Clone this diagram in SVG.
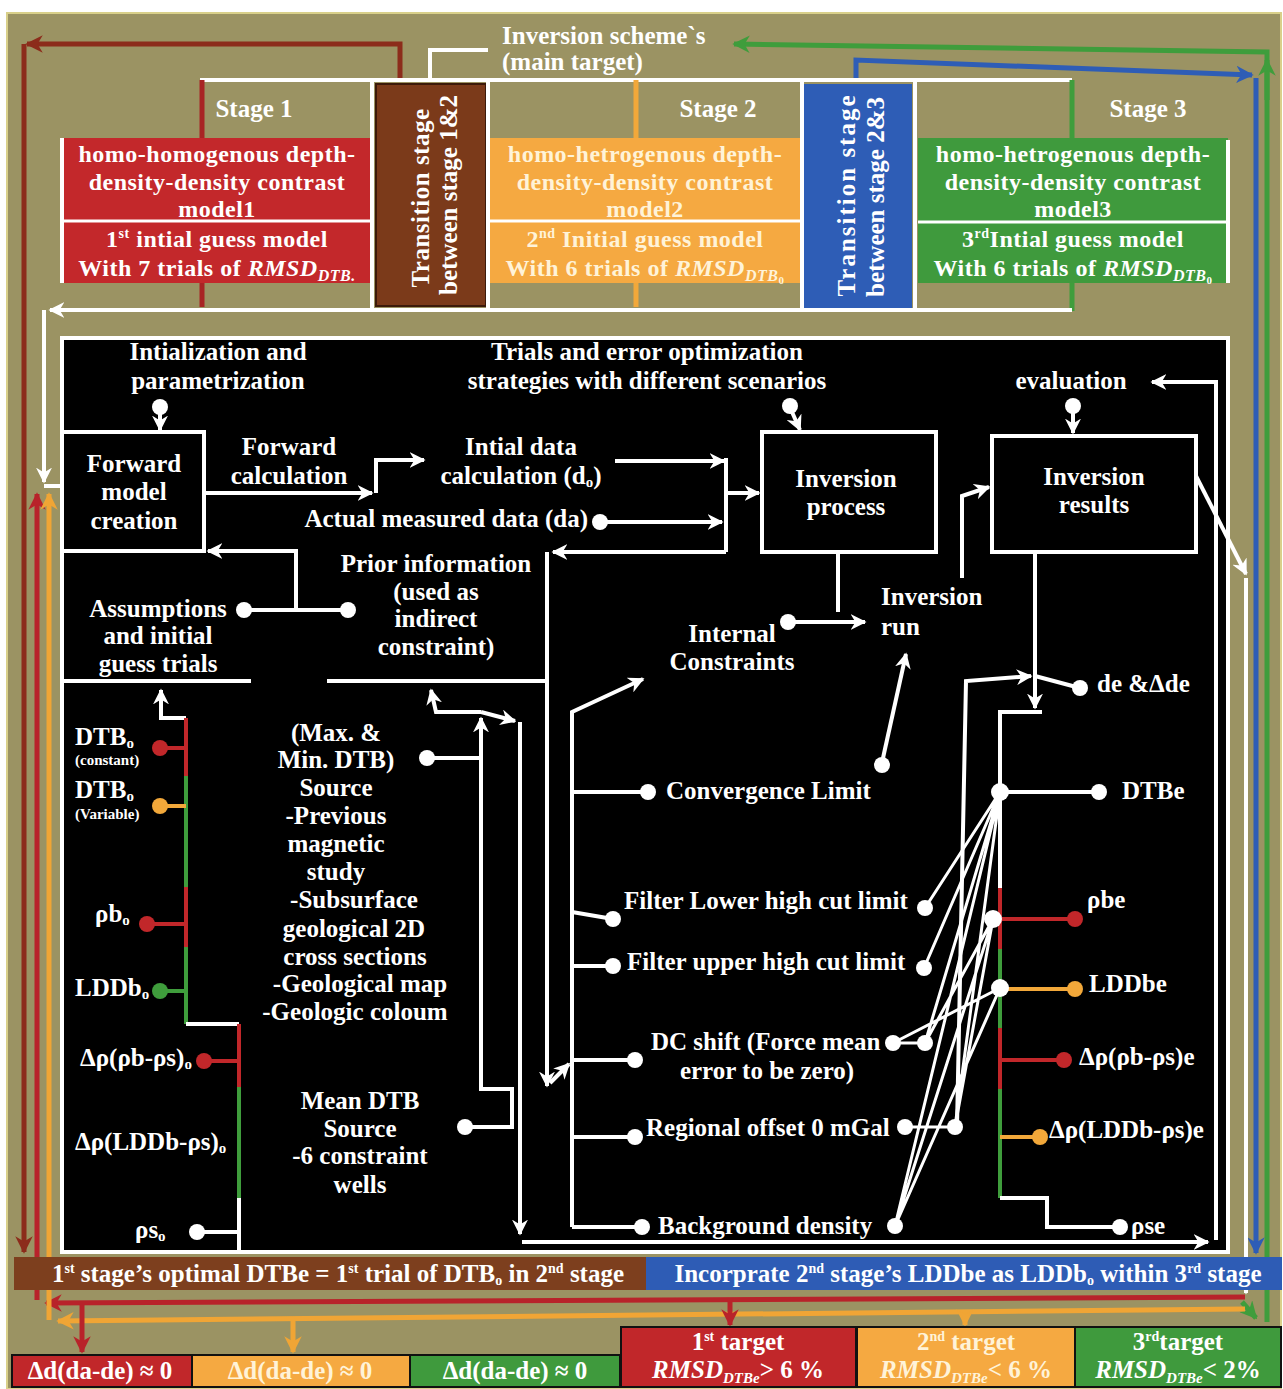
<svg xmlns="http://www.w3.org/2000/svg" width="1283" height="1389" viewBox="0 0 1283 1389">
<defs>
<style>
text{font-family:"Liberation Serif","DejaVu Serif",serif;font-weight:bold;fill:#fff;font-size:25px}
.c{text-anchor:middle}
.sb{font-size:24px;letter-spacing:0.5px}
.sm{font-size:15px}
.it{font-style:italic}
.nw{font-weight:normal}
.pale{fill:#fff3d8}
.w{fill:none;stroke:#fff;stroke-width:4}
.wt{fill:none;stroke:#fff;stroke-width:3}
.wa{marker-end:url(#aw)}
.d{fill:#fff}
.box{fill:none;stroke:#fff;stroke-width:4}
.rl{fill:none;stroke:#c1272a;stroke-width:4}
.ol{fill:none;stroke:#f2a83a;stroke-width:4}
.gl{fill:none;stroke:#3f9d3c;stroke-width:4}
.rd{fill:#c1272a}
.od{fill:#f2a83a}
.gd{fill:#3f9d3c}
.big{fill:none;stroke-width:5}
</style>
<marker id="aw" viewBox="0 0 10 10" refX="9" refY="5" markerWidth="4" markerHeight="4" orient="auto" markerUnits="strokeWidth"><path d="M0,0 L10,5 L0,10 L3,5 z" fill="#fff"/></marker>
<marker id="ar" viewBox="0 0 10 10" refX="9" refY="5" markerWidth="3.5" markerHeight="3.5" orient="auto" markerUnits="strokeWidth"><path d="M0,0 L10,5 L0,10 L3,5 z" fill="#b8232a"/></marker>
<marker id="ao" viewBox="0 0 10 10" refX="9" refY="5" markerWidth="3.5" markerHeight="3.5" orient="auto" markerUnits="strokeWidth"><path d="M0,0 L10,5 L0,10 L3,5 z" fill="#f0a535"/></marker>
<marker id="ag" viewBox="0 0 10 10" refX="9" refY="5" markerWidth="3.5" markerHeight="3.5" orient="auto" markerUnits="strokeWidth"><path d="M0,0 L10,5 L0,10 L3,5 z" fill="#3f9d3c"/></marker>
<marker id="ab" viewBox="0 0 10 10" refX="9" refY="5" markerWidth="3.5" markerHeight="3.5" orient="auto" markerUnits="strokeWidth"><path d="M0,0 L10,5 L0,10 L3,5 z" fill="#2e5db6"/></marker>
<marker id="abr" viewBox="0 0 10 10" refX="9" refY="5" markerWidth="3.5" markerHeight="3.5" orient="auto" markerUnits="strokeWidth"><path d="M0,0 L10,5 L0,10 L3,5 z" fill="#8c2c1b"/></marker>
</defs>

<rect x="0" y="0" width="1283" height="1389" fill="#fff"/>
<rect x="7" y="13" width="1274" height="1376" fill="#9b9363" stroke="#d9d08a" stroke-width="2"/>

<!-- Stage row nodes -->
<g id="main-target">
<text x="502" y="44" font-size="24" fill="#f7f2de">Inversion scheme`s</text>
<text x="502" y="70" font-size="24" fill="#f7f2de">(main target)</text>
</g>

<g id="stage1">
<rect x="62" y="138" width="310" height="145" fill="#c3282b"/>
<path d="M62,138 V283" class="w"/>
<path d="M62,221 H372" stroke="#fff" stroke-width="3"/>
<text x="254" y="117" class="c" font-size="24">Stage 1</text>
<text x="217" y="162" class="c sb">homo-homogenous  depth-</text>
<text x="217" y="190" class="c sb">density-density contrast</text>
<text x="217" y="217" class="c sb">model1</text>
<text x="217" y="247" class="c sb">1<tspan font-size="14" dy="-9">st</tspan><tspan dy="9"> intial guess model</tspan></text>
<text x="217" y="276" class="c sb">With 7 trials of <tspan class="it">RMSD</tspan><tspan class="it" font-size="16" dy="5">DTB.</tspan></text>
</g>

<g id="transition12">
<rect x="376" y="84" width="110" height="222" fill="#7b3a1a" stroke="#3c1a0a" stroke-width="2"/>
<text transform="translate(429,198) rotate(-90)" class="c" font-size="24" letter-spacing="0.5">Transition stage</text>
<text transform="translate(457,195) rotate(-90)" class="c" font-size="24">between stage 1&amp;2</text>
</g>

<g id="stage2">
<rect x="490" y="138" width="310" height="145" fill="#f5a941"/>
<path d="M490,221 H800" stroke="#fff" stroke-width="3"/>
<text x="718" y="117" class="c" font-size="24">Stage 2</text>
<text x="645" y="162" class="c sb pale">homo-hetrogenous depth-</text>
<text x="645" y="190" class="c sb pale">density-density contrast</text>
<text x="645" y="217" class="c sb pale">model2</text>
<text x="645" y="247" class="c sb pale">2<tspan font-size="14" dy="-9">nd</tspan><tspan dy="9"> Initial guess model</tspan></text>
<text x="645" y="276" class="c sb pale">With 6 trials of <tspan class="it">RMSD</tspan><tspan class="it" font-size="16" dy="5">DTB</tspan><tspan font-size="11" dy="3">0</tspan></text>
</g>

<g id="transition23">
<rect x="804" y="84" width="108" height="226" fill="#2e5db6"/>
<text transform="translate(855,195) rotate(-90)" class="c" font-size="22" letter-spacing="2">Transition stage</text>
<text transform="translate(884,197) rotate(-90)" class="c" font-size="24">between stage 2&amp;3</text>
</g>

<g id="stage3">
<rect x="918" y="138" width="310" height="145" fill="#3f9a3d"/>
<path d="M1228,140 V283" class="w"/>
<path d="M918,222 H1226" stroke="#fff" stroke-width="3"/>
<text x="1148" y="117" class="c" font-size="24">Stage 3</text>
<text x="1073" y="162" class="c sb">homo-hetrogenous depth-</text>
<text x="1073" y="190" class="c sb">density-density contrast</text>
<text x="1073" y="217" class="c sb">model3</text>
<text x="1073" y="247" class="c sb">3<tspan font-size="14" dy="-9">rd</tspan><tspan dy="9">Intial guess model</tspan></text>
<text x="1073" y="276" class="c sb">With 6 trials of <tspan class="it">RMSD</tspan><tspan class="it" font-size="16" dy="5">DTB</tspan><tspan font-size="11" dy="3">0</tspan></text>
</g>

<!-- Black panel -->
<g id="panel">
<rect x="62" y="338" width="1166" height="914" fill="#000" stroke="#fff" stroke-width="4"/>
</g>

<g id="connectors">
<!-- outer coloured loops -->
<path d="M400,82 V44 H27" stroke="#8c2c1b" class="big" marker-end="url(#abr)"/>
<path d="M24,44 V1252" stroke="#8c2c1b" class="big" marker-end="url(#abr)"/>
<path d="M1267,1322 V52 L734,44" stroke="#3f9d3c" class="big" marker-end="url(#ag)"/>
<path d="M1267,100 V60" stroke="#3f9d3c" class="big" marker-end="url(#ag)"/>
<path d="M1242,1302 L1256,1318" stroke="#3f9d3c" class="big" marker-end="url(#ag)"/>
<path d="M856,82 V60 L1252,75" stroke="#2e5db6" class="big" marker-end="url(#ab)"/>
<path d="M1256,78 V1253" stroke="#2e5db6" class="big" marker-end="url(#ab)"/>
<!-- stage row frame -->
<path class="w" d="M200,80 H1072"/>
<path class="w" d="M430,80 V50 H488"/>
<path class="w" d="M372,80 V308 M488,80 V308 M802,80 V310 M915,80 V310"/>
<path d="M202,80 V138 M202,283 V307" stroke="#a82424" class="big"/>
<path d="M636,80 V138 M636,283 V307" stroke="#f2a83a" class="big"/>
<path d="M1072,80 V138 M1072,283 V311" stroke="#3f9d3c" class="big"/>
<path class="w wa" d="M1072,310 H50"/>
<path class="w wa" d="M44,310 V482"/>
<path class="w" d="M44,486 H62"/>
<!-- bottom return loops -->
<path d="M1245,1297 L46,1303" stroke="#b8232a" class="big" marker-end="url(#ar)"/>
<path d="M37,1300 V494" stroke="#b8232a" class="big" marker-end="url(#ar)"/>
<path d="M1245,1309 L58,1321" stroke="#f0a535" class="big" marker-end="url(#ao)"/>
<path d="M49,1320 V494" stroke="#f0a535" class="big" marker-end="url(#ao)"/>
<path d="M82,1304 V1352" stroke="#b8232a" class="big" marker-end="url(#ar)"/>
<path d="M293,1319 V1352" stroke="#f0a535" class="big" marker-end="url(#ao)"/>
<path d="M730,1299 V1325" stroke="#b8232a" class="big" marker-end="url(#ar)"/>
<path d="M965,1312 V1325" stroke="#f0a535" class="big" marker-end="url(#ao)"/>
<path class="w wa" d="M1196,476 L1246,574"/>
<path class="w wa" d="M1246,578 V1293"/>

<!-- panel flow -->
<path class="w wa" d="M160,413 V430"/>
<path class="w wa" d="M204,493 H372"/>
<path class="w wa" d="M376,493 V460 H424"/>
<path class="w wa" d="M615,461 H724"/>
<path class="w" d="M726,458 V552"/>
<path class="w wa" d="M606,522 H722"/>
<path class="w wa" d="M726,493 H759"/>
<path class="w wa" d="M726,552 H553"/>
<path class="w wa" d="M547,552 V1086"/>
<path class="w wa" d="M550,1083 L569,1064"/>
<path class="w wa" d="M792,412 L800,430"/>
<path class="w wa" d="M1073,413 V433"/>
<path class="w" d="M838,552 V612"/>
<path class="w wa" d="M794,622 H865"/>
<path class="w wa" d="M962,578 V496 L989,487"/>
<path class="w wa" d="M883,758 L906,654"/>
<path class="w wa" d="M296,610 V551 H208"/>
<path class="w" d="M244,610 H348"/>
<path class="w" d="M62,681 H251 M327,681 H547"/>
<path class="w wa" d="M186,718 H161 V690"/>
<path class="w wa" d="M465,1127 H512 V1089 H481 V718"/>
<path class="w" d="M427,758 H481"/>
<path class="w wa" d="M481,712 H436 L431,690"/>
<path class="w wa" d="M481,712 L515,721"/>
<path class="w wa" d="M520,722 V1234"/>
<path class="w wa" d="M522,1242 H1208"/>
<path class="w wa" d="M1216,1240 V382 H1152"/>
<path class="w wa" d="M572,1227 V712 L643,679"/>
<path class="w" d="M572,792 H648 M572,912 L613,919 M572,966 H613 M572,1060 H635 M572,1137 H635 M572,1227 H642"/>
<path class="w wa" d="M1035,552 V708"/>
<path class="w" d="M1042,712 H1000 V888"/>
<path class="rl" d="M1000,888 V949"/>
<path class="gl" d="M1000,949 V1028"/>
<path class="rl" d="M1000,1028 V1089"/>
<path class="gl" d="M1000,1089 V1198"/>
<path class="w" d="M1000,1198 H1047 V1227 H1120"/>
<path class="w wa" d="M957,1127 L966,681 L1031,676"/>
<path class="w" d="M1035,676 L1080,688"/>
<path class="w" d="M1000,792 H1099"/>
<path class="rl" d="M993,919 H1075"/>
<path class="ol" d="M1000,989 H1075"/>
<path class="rl" d="M1000,1060 H1064"/>
<path class="ol" d="M1000,1137 H1040"/>
<path class="wt" d="M1000,792 L925,908 M1000,792 L924,968 M1000,792 L925,1043 M1000,792 L955,1127 M1000,792 L895,1226 M993,919 L925,1043 M993,919 L955,1127 M993,919 L895,1226 M1000,988 L893,1043 M1000,988 L895,1226 M893,1043 H925 M905,1127 H955"/>
<!-- left chain -->
<path class="rl" d="M186,718 V776"/>
<path class="gl" d="M186,776 V887"/>
<path class="rl" d="M186,887 V947"/>
<path class="gl" d="M186,947 V1024"/>
<path class="w" d="M186,1024 H239"/>
<path class="rl" d="M239,1024 V1087"/>
<path class="gl" d="M239,1087 V1198"/>
<path class="w" d="M239,1198 V1252"/>
<path class="rl" d="M160,748 H186 M147,924 H186 M204,1061 H239"/>
<path class="ol" d="M160,806 H186"/>
<path class="gl" d="M160,991 H186"/>
<path class="w" d="M197,1232 H239"/>
</g>

<!-- panel nodes -->
<g id="init">
<text x="218" y="360" class="c">Intialization and</text>
<text x="218" y="389" class="c">parametrization</text>
<circle cx="160" cy="407" r="8" class="d"/>
</g>
<g id="forward-model">
<rect x="62" y="432" width="142" height="119" class="box"/>
<text x="134" y="472" class="c">Forward</text>
<text x="134" y="500" class="c">model</text>
<text x="134" y="529" class="c">creation</text>
</g>
<g id="forward-calc">
<text x="289" y="455" class="c">Forward</text>
<text x="289" y="484" class="c">calculation</text>
</g>
<g id="initial-data">
<text x="521" y="455" class="c">Intial data</text>
<text x="521" y="484" class="c">calculation (d<tspan font-size="15" dy="3">o</tspan><tspan dy="-3">)</tspan></text>
</g>
<g id="actual-data">
<text x="588" y="527" text-anchor="end">Actual measured data (da)</text>
<circle cx="600" cy="522" r="8" class="d"/>
</g>
<g id="trials">
<text x="647" y="360" class="c">Trials and error optimization</text>
<text x="647" y="389" class="c">strategies with different scenarios</text>
<circle cx="790" cy="406" r="8" class="d"/>
</g>
<g id="inversion-process">
<rect x="762" y="432" width="174" height="120" class="box"/>
<text x="846" y="487" class="c">Inversion</text>
<text x="846" y="515" class="c">process</text>
</g>
<g id="evaluation">
<text x="1071" y="389" class="c">evaluation</text>
<circle cx="1073" cy="406" r="8" class="d"/>
</g>
<g id="inversion-results">
<rect x="992" y="436" width="204" height="116" class="box"/>
<text x="1094" y="485" class="c">Inversion</text>
<text x="1094" y="513" class="c">results</text>
</g>
<g id="inversion-run">
<text x="881" y="605">Inversion</text>
<text x="881" y="635">run</text>
</g>
<g id="internal-constraints">
<text x="732" y="642" class="c">Internal</text>
<text x="732" y="670" class="c">Constraints</text>
<circle cx="788" cy="622" r="8" class="d"/>
</g>
<g id="assumptions">
<text x="158" y="617" class="c">Assumptions</text>
<text x="158" y="644" class="c">and initial</text>
<text x="158" y="672" class="c">guess trials</text>
<circle cx="244" cy="610" r="8" class="d"/>
</g>
<g id="prior-info">
<text x="436" y="572" class="c">Prior information</text>
<text x="436" y="600" class="c">(used as</text>
<text x="436" y="627" class="c">indirect</text>
<text x="436" y="655" class="c">constraint)</text>
<circle cx="348" cy="610" r="8" class="d"/>
</g>
<g id="initial-params">
<text x="75" y="745">DTB<tspan font-size="15" dy="3">o</tspan></text>
<text x="75" y="765" class="sm">(constant)</text>
<circle cx="160" cy="748" r="8" class="rd"/>
<text x="75" y="798">DTB<tspan font-size="15" dy="3">o</tspan></text>
<text x="75" y="819" class="sm">(Variable)</text>
<circle cx="160" cy="806" r="8" class="od"/>
<text x="95" y="922">ρb<tspan font-size="15" dy="3">o</tspan></text>
<circle cx="147" cy="924" r="8" class="rd"/>
<text x="75" y="996">LDDb<tspan font-size="15" dy="3">o</tspan></text>
<circle cx="160" cy="991" r="8" class="gd"/>
<text x="80" y="1066">Δρ(ρb-ρs)<tspan font-size="15" dy="3">o</tspan></text>
<circle cx="204" cy="1061" r="8" class="rd"/>
<text x="75" y="1150">Δρ(LDDb-ρs)<tspan font-size="15" dy="3">o</tspan></text>
<text x="135" y="1238">ρs<tspan font-size="15" dy="3">o</tspan></text>
<circle cx="197" cy="1232" r="8" class="d"/>
</g>
<g id="dtb-source">
<text x="336" y="741" class="c">(Max. &amp;</text>
<text x="336" y="768" class="c">Min. DTB)</text>
<text x="336" y="796" class="c">Source</text>
<text x="336" y="824" class="c">-Previous</text>
<text x="336" y="852" class="c">magnetic</text>
<text x="336" y="880" class="c">study</text>
<text x="354" y="908" class="c">-Subsurface</text>
<text x="354" y="937" class="c">geological 2D</text>
<text x="355" y="965" class="c">cross sections</text>
<text x="360" y="992" class="c">-Geological map</text>
<text x="355" y="1020" class="c">-Geologic coloum</text>
<circle cx="427" cy="758" r="8" class="d"/>
</g>
<g id="mean-dtb">
<text x="360" y="1109" class="c">Mean DTB</text>
<text x="360" y="1137" class="c">Source</text>
<text x="360" y="1164" class="c">-6 constraint</text>
<text x="360" y="1193" class="c">wells</text>
<circle cx="465" cy="1127" r="8" class="d"/>
</g>
<g id="strategies">
<text x="666" y="799">Convergence Limit</text>
<circle cx="648" cy="792" r="8" class="d"/>
<circle cx="882" cy="765" r="8" class="d"/>
<text x="624" y="909">Filter Lower high cut limit</text>
<circle cx="613" cy="919" r="8" class="d"/>
<circle cx="925" cy="908" r="8" class="d"/>
<text x="627" y="970">Filter upper high cut limit</text>
<circle cx="613" cy="966" r="8" class="d"/>
<circle cx="924" cy="968" r="8" class="d"/>
<text x="651" y="1050">DC shift (Force mean</text>
<text x="767" y="1079" class="c">error to be zero)</text>
<circle cx="635" cy="1060" r="8" class="d"/>
<circle cx="893" cy="1043" r="8" class="d"/>
<circle cx="925" cy="1043" r="8" class="d"/>
<text x="646" y="1136">Regional offset 0 mGal</text>
<circle cx="635" cy="1137" r="8" class="d"/>
<circle cx="905" cy="1127" r="8" class="d"/>
<circle cx="955" cy="1127" r="8" class="d"/>
<text x="658" y="1234">Background density</text>
<circle cx="642" cy="1227" r="8" class="d"/>
<circle cx="895" cy="1226" r="8" class="d"/>
</g>
<g id="results-params">
<text x="1097" y="692">de &amp;Δde</text>
<circle cx="1080" cy="688" r="8" class="d"/>
<circle cx="1000" cy="792" r="9" class="d"/>
<text x="1122" y="799">DTBe</text>
<circle cx="1099" cy="792" r="8" class="d"/>
<circle cx="993" cy="919" r="9" class="d"/>
<text x="1087" y="908">ρbe</text>
<circle cx="1075" cy="919" r="8" class="rd"/>
<circle cx="1000" cy="988" r="9" class="d"/>
<text x="1089" y="992">LDDbe</text>
<circle cx="1075" cy="989" r="8" class="od"/>
<text x="1079" y="1065">Δρ(ρb-ρs)e</text>
<circle cx="1064" cy="1060" r="8" class="rd"/>
<text x="1049" y="1138">Δρ(LDDb-ρs)e</text>
<circle cx="1040" cy="1137" r="8" class="od"/>
<text x="1131" y="1234">ρse</text>
<circle cx="1120" cy="1227" r="8" class="d"/>
</g>

<!-- bottom bands -->
<g id="transfer-1-2">
<rect x="14" y="1257" width="632" height="33" fill="#7d3f1e"/>
<text x="338" y="1282" class="c" font-size="24">1<tspan font-size="14" dy="-9">st</tspan><tspan dy="9"> stage’s optimal DTBe = 1</tspan><tspan font-size="14" dy="-9">st</tspan><tspan dy="9"> trial of DTB</tspan><tspan font-size="14" dy="3">o</tspan><tspan dy="-3"> in 2</tspan><tspan font-size="14" dy="-9">nd</tspan><tspan dy="9"> stage</tspan></text>
</g>
<g id="transfer-2-3">
<rect x="646" y="1257" width="636" height="33" fill="#2e5cb5"/>
<text x="968" y="1282" class="c" font-size="24">Incorprate 2<tspan font-size="14" dy="-9">nd</tspan><tspan dy="9"> stage’s LDDbe as LDDb</tspan><tspan font-size="14" dy="3">o</tspan><tspan dy="-3"> within 3</tspan><tspan font-size="14" dy="-9">rd</tspan><tspan dy="9"> stage</tspan></text>
</g>
<g id="delta-red">
<rect x="12" y="1355" width="180" height="32" fill="#c1272a" stroke="#111" stroke-width="2"/>
<text x="100" y="1379" class="c" font-size="24">Δd(da-de) ≈ 0</text>
</g>
<g id="delta-orange">
<rect x="192" y="1355" width="218" height="32" fill="#f5a941" stroke="#111" stroke-width="2"/>
<text x="300" y="1379" class="c pale" font-size="24">Δd(da-de) ≈ 0</text>
</g>
<g id="delta-green">
<rect x="410" y="1355" width="210" height="32" fill="#3f9a3d" stroke="#111" stroke-width="2"/>
<text x="515" y="1379" class="c" font-size="24">Δd(da-de) ≈ 0</text>
</g>
<g id="target1">
<rect x="621" y="1327" width="235" height="60" fill="#c1272a" stroke="#111" stroke-width="2"/>
<text x="738" y="1350" class="c" font-size="24">1<tspan font-size="14" dy="-9">st</tspan><tspan dy="9"> target</tspan></text>
<text x="738" y="1378" class="c" font-size="24"><tspan class="it">RMSD</tspan><tspan class="it" font-size="15" dy="5">DTBe</tspan><tspan dy="-5">&gt; 6 %</tspan></text>
</g>
<g id="target2">
<rect x="857" y="1327" width="218" height="60" fill="#f5a941" stroke="#111" stroke-width="2"/>
<text x="966" y="1350" class="c pale" font-size="24">2<tspan font-size="14" dy="-9">nd</tspan><tspan dy="9"> target</tspan></text>
<text x="966" y="1378" class="c pale" font-size="24"><tspan class="it">RMSD</tspan><tspan class="it" font-size="15" dy="5">DTBe</tspan><tspan dy="-5">&lt; 6 %</tspan></text>
</g>
<g id="target3">
<rect x="1075" y="1327" width="206" height="60" fill="#3f9a3d" stroke="#111" stroke-width="2"/>
<text x="1178" y="1350" class="c" font-size="24">3<tspan font-size="14" dy="-9">rd</tspan><tspan dy="9">target</tspan></text>
<text x="1178" y="1378" class="c" font-size="24"><tspan class="it">RMSD</tspan><tspan class="it" font-size="15" dy="5">DTBe</tspan><tspan dy="-5">&lt; 2%</tspan></text>
</g>
</svg>
